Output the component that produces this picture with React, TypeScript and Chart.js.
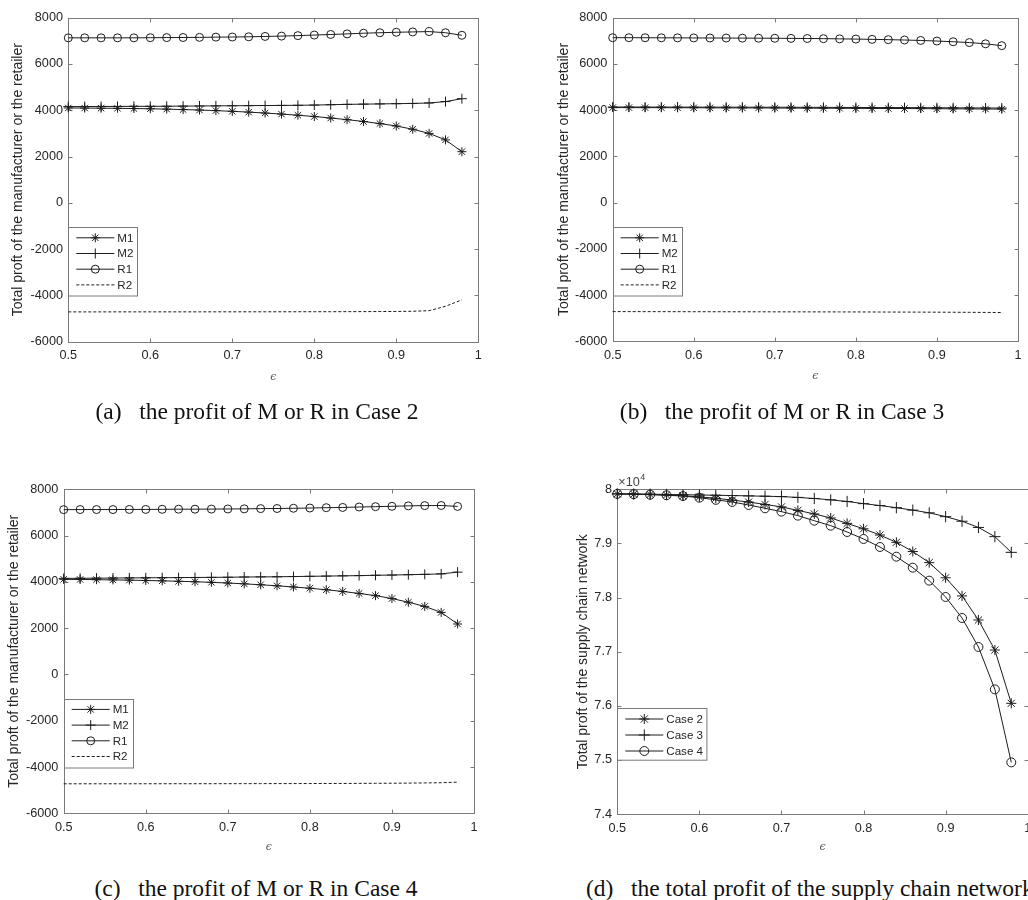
import React, { useEffect, useRef } from 'react';
import { Chart, registerables } from 'chart.js';

Chart.register(...registerables);

// ---------- data ----------
const EPS = [0.5, 0.52, 0.54, 0.56, 0.58, 0.6, 0.62, 0.64, 0.66, 0.68, 0.7, 0.72, 0.74, 0.76, 0.78, 0.8, 0.82, 0.84, 0.86, 0.88, 0.9, 0.92, 0.94, 0.96, 0.98];

const PROFIT_TICKS_Y = [-6000, -4000, -2000, 0, 2000, 4000, 6000, 8000];
const EPS_TICKS = [0.5, 0.6, 0.7, 0.8, 0.9, 1];
const TOTAL_TICKS_Y = [74000, 75000, 76000, 77000, 78000, 79000, 80000];

// (a) Case 2
const A_M1 = [4100, 4095, 4090, 4085, 4075, 4065, 4050, 4030, 4010, 3985, 3955, 3920, 3880, 3835, 3785, 3730, 3665, 3595, 3515, 3425, 3320, 3180, 3000, 2720, 2210];
const A_M2 = [4160, 4160, 4165, 4165, 4170, 4170, 4175, 4180, 4185, 4190, 4195, 4200, 4205, 4210, 4215, 4225, 4240, 4255, 4265, 4275, 4285, 4295, 4315, 4375, 4500];
const A_R1 = [7130, 7130, 7130, 7130, 7130, 7135, 7140, 7145, 7150, 7160, 7165, 7175, 7190, 7205, 7225, 7250, 7275, 7300, 7330, 7350, 7370, 7385, 7400, 7350, 7240];
const A_R2 = [-4712, -4712, -4712, -4711, -4711, -4711, -4710, -4710, -4710, -4709, -4709, -4708, -4708, -4707, -4706, -4705, -4704, -4702, -4700, -4697, -4693, -4685, -4660, -4470, -4190];

// (b) Case 3
const B_M1 = [4110, 4110, 4108, 4107, 4105, 4103, 4101, 4099, 4097, 4095, 4093, 4090, 4088, 4085, 4082, 4079, 4076, 4073, 4070, 4066, 4062, 4058, 4054, 4050, 4045];
const B_M2 = [4135, 4135, 4134, 4133, 4132, 4131, 4130, 4129, 4128, 4127, 4126, 4124, 4122, 4120, 4118, 4116, 4114, 4112, 4110, 4107, 4104, 4101, 4098, 4094, 4090];
const B_R1 = [7135, 7135, 7133, 7130, 7128, 7125, 7122, 7120, 7117, 7113, 7110, 7105, 7100, 7093, 7085, 7075, 7063, 7050, 7035, 7015, 6990, 6960, 6925, 6870, 6790];
const B_R2 = [-4715, -4716, -4717, -4718, -4719, -4720, -4721, -4722, -4723, -4724, -4725, -4726, -4727, -4728, -4729, -4730, -4732, -4734, -4736, -4738, -4740, -4743, -4746, -4750, -4755];

// (c) Case 4
const C_M1 = [4110, 4105, 4095, 4085, 4075, 4060, 4045, 4025, 4005, 3980, 3950, 3915, 3875, 3830, 3780, 3725, 3660, 3585, 3500, 3405, 3280, 3120, 2940, 2680, 2180];
const C_M2 = [4150, 4155, 4160, 4165, 4170, 4175, 4180, 4185, 4190, 4195, 4200, 4210, 4215, 4220, 4230, 4240, 4250, 4260, 4270, 4285, 4295, 4310, 4325, 4345, 4420];
const C_R1 = [7120, 7125, 7125, 7125, 7130, 7130, 7135, 7140, 7140, 7145, 7150, 7155, 7165, 7170, 7180, 7190, 7205, 7215, 7235, 7250, 7265, 7285, 7295, 7300, 7260];
const C_R2 = [-4725, -4725, -4725, -4724, -4724, -4723, -4723, -4722, -4722, -4721, -4720, -4719, -4718, -4717, -4716, -4714, -4712, -4710, -4707, -4704, -4700, -4695, -4688, -4678, -4655];

// (d) total profit of the network
const D_CASE2 = [79915, 79910, 79905, 79895, 79880, 79860, 79835, 79800, 79765, 79720, 79675, 79610, 79545, 79470, 79370, 79270, 79155, 79020, 78850, 78645, 78365, 78030, 77585, 77030, 76045];
const D_CASE3 = [79915, 79913, 79910, 79905, 79900, 79895, 79890, 79885, 79878, 79872, 79865, 79850, 79830, 79805, 79775, 79735, 79700, 79660, 79615, 79565, 79495, 79410, 79295, 79125, 78835];
const D_CASE4 = [79915, 79910, 79900, 79890, 79875, 79845, 79805, 79766, 79710, 79649, 79587, 79513, 79420, 79328, 79211, 79082, 78934, 78755, 78552, 78312, 78010, 77622, 77086, 76303, 74954];

const CAPTIONS = [
  '(a)\u2002 the profit of M or R in Case 2',
  '(b)\u2002 the profit of M or R in Case 3',
  '(c)\u2002 the profit of M or R in Case 4',
  '(d)\u2002 the total profit of the supply chain network',
];

// ---------- styling ----------
const AXIS_COLOR = '#7a7a7a';
const TEXT_COLOR = '#262626';
const LINE_COLOR = '#1c1c1c';
const SANS = '"Liberation Sans", Arial, sans-serif';

type Marker = 'star' | 'cross' | 'circle' | 'none';
type SeriesDef = { label: string; values: number[]; marker: Marker; dashed?: boolean };

function drawMarker(ctx: CanvasRenderingContext2D, m: Marker, x: number, y: number, r: number) {
  if (m === 'none') return;
  ctx.beginPath();
  if (m === 'circle') {
    ctx.arc(x, y, r, 0, Math.PI * 2);
  } else {
    ctx.moveTo(x - r, y); ctx.lineTo(x + r, y);
    ctx.moveTo(x, y - r); ctx.lineTo(x, y + r);
    if (m === 'star') {
      const d = r * Math.SQRT1_2;
      ctx.moveTo(x - d, y - d); ctx.lineTo(x + d, y + d);
      ctx.moveTo(x - d, y + d); ctx.lineTo(x + d, y - d);
    }
  }
  ctx.stroke();
}

const matlabAxes = {
  id: 'matlabAxes',
  beforeDatasetsDraw(chart: any) {
    const { ctx, chartArea } = chart;
    const { left, right, top, bottom } = chartArea;
    const xs = chart.scales.x;
    const ys = chart.scales.y;
    const L = Math.round(left) + 0.5, R = Math.round(right) + 0.5;
    const T = Math.round(top) + 0.5, B = Math.round(bottom) + 0.5;
    ctx.save();
    ctx.strokeStyle = AXIS_COLOR;
    ctx.lineWidth = 1;
    ctx.strokeRect(L, T, R - L, B - T);
    const tl = 4;
    ctx.beginPath();
    xs.ticks.forEach((t: any) => {
      const px = Math.round(xs.getPixelForValue(t.value)) + 0.5;
      ctx.moveTo(px, B); ctx.lineTo(px, B - tl);
      ctx.moveTo(px, T); ctx.lineTo(px, T + tl);
    });
    ys.ticks.forEach((t: any) => {
      const py = Math.round(ys.getPixelForValue(t.value)) + 0.5;
      ctx.moveTo(L, py); ctx.lineTo(L + tl, py);
      ctx.moveTo(R, py); ctx.lineTo(R - tl, py);
    });
    ctx.stroke();
    ctx.restore();
  },
  afterDatasetsDraw(chart: any, _args: any, opts: any) {
    const { ctx, chartArea } = chart;
    const { left, top } = chartArea;
    ctx.save();
    if (opts.legend) {
      const lg = opts.legend;
      const bx = Math.round(left) + 0.5;
      const by = Math.round(top + lg.top) + 0.5;
      ctx.fillStyle = '#ffffff';
      ctx.fillRect(bx, by, lg.width, lg.height);
      ctx.strokeStyle = AXIS_COLOR;
      ctx.lineWidth = 1;
      ctx.strokeRect(bx, by, lg.width, lg.height);
      chart.data.datasets.forEach((ds: any, i: number) => {
        const yy = top + lg.top + 10.7 + i * lg.gap;
        ctx.strokeStyle = LINE_COLOR;
        ctx.lineWidth = 1;
        ctx.setLineDash(ds.borderDash || []);
        ctx.beginPath();
        ctx.moveTo(left + 8, yy); ctx.lineTo(left + 46, yy);
        ctx.stroke();
        ctx.setLineDash([]);
        drawMarker(ctx, ds.markerKind, left + 27, yy, ds.pointRadius);
        ctx.fillStyle = TEXT_COLOR;
        ctx.font = `11.6px ${SANS}`;
        ctx.textBaseline = 'middle';
        ctx.textAlign = 'left';
        ctx.fillText(ds.label, left + 49, yy + 0.5);
      });
    }
    if (opts.exponent) {
      ctx.fillStyle = '#444';
      ctx.textAlign = 'left';
      ctx.textBaseline = 'alphabetic';
      ctx.font = `12.7px ${SANS}`;
      ctx.fillText('\u00d710', left + 1, top - 3);
      const w = ctx.measureText('\u00d710').width;
      ctx.font = `9px ${SANS}`;
      ctx.fillText('4', left + 1 + w + 0.5, top - 9.5);
    }
    ctx.restore();
  },
};

type PanelDef = {
  left: number; top: number; w: number; h: number;
  yW: number; padTop: number; padRight: number; xH: number;
  yTitle: string; yTitleX: number; xTitleFromBottom: number;
  yTicks: number[]; yFmt: (v: number) => string;
  series: SeriesDef[];
  legend: { top: number; width: number; height: number; gap: number };
  exponent?: boolean;
  markerScale?: number;
};

const profitFmt = (v: number) => String(Math.round(v));
const totalFmt = (v: number) => String(Number((v / 10000).toFixed(1)));

const caseSeries = (m1: number[], m2: number[], r1: number[], r2: number[]): SeriesDef[] => [
  { label: 'M1', values: m1, marker: 'star' },
  { label: 'M2', values: m2, marker: 'cross' },
  { label: 'R1', values: r1, marker: 'circle' },
  { label: 'R2', values: r2, marker: 'none', dashed: true },
];

const profitLegend = { top: 209.4, width: 69, height: 68.5, gap: 15.7 };

const PANELS: PanelDef[] = [
  {
    left: 0, top: 0, w: 510, h: 400, yW: 68.3, padTop: 17.7, padRight: 31.7, xH: 58.3,
    yTitle: 'Total proft of the manufacturer or the retailer', yTitleX: 18.3, xTitleFromBottom: 23.3,
    yTicks: PROFIT_TICKS_Y, yFmt: profitFmt, series: caseSeries(A_M1, A_M2, A_R1, A_R2), legend: profitLegend,
  },
  {
    left: 510, top: 0, w: 518, h: 400, yW: 102.7, padTop: 17.7, padRight: 8, xH: 58.7,
    yTitle: 'Total proft of the manufacturer or the retailer', yTitleX: 54, xTitleFromBottom: 24,
    yTicks: PROFIT_TICKS_Y, yFmt: profitFmt, series: caseSeries(B_M1, B_M2, B_R1, B_R2), legend: profitLegend,
  },
  {
    left: 0, top: 440, w: 510, h: 420, yW: 63.7, padTop: 49.3, padRight: 36, xH: 46.7,
    yTitle: 'Total proft of the manufacturer or the retailer', yTitleX: 14, xTitleFromBottom: 13,
    yTicks: PROFIT_TICKS_Y, yFmt: profitFmt, series: caseSeries(C_M1, C_M2, C_R1, C_R2), legend: profitLegend,
  },
  {
    left: 510, top: 440, w: 560, h: 420, yW: 107.3, padTop: 49.3, padRight: 42.3, xH: 46,
    yTitle: 'Total proft of the supply chain network', yTitleX: 72.7, xTitleFromBottom: 12.7,
    yTicks: TOTAL_TICKS_Y, yFmt: totalFmt,
    series: [
      { label: 'Case 2', values: D_CASE2, marker: 'star' },
      { label: 'Case 3', values: D_CASE3, marker: 'cross' },
      { label: 'Case 4', values: D_CASE4, marker: 'circle' },
    ],
    legend: { top: 219, width: 89.4, height: 51.7, gap: 16 },
    exponent: true,
    markerScale: 1.12,
  },
];

const RADIUS: Record<Marker, number> = { star: 4.5, cross: 5, circle: 4, none: 0 };

function PanelChart({ p }: { p: PanelDef }) {
  const ref = useRef<HTMLCanvasElement>(null);
  useEffect(() => {
    const s = p.markerScale || 1;
    const datasets = p.series.map((sd) => ({
      label: sd.label,
      data: EPS.map((x, i) => ({ x, y: sd.values[i] })),
      borderColor: LINE_COLOR,
      backgroundColor: 'rgba(0,0,0,0)',
      borderWidth: 1,
      borderDash: sd.dashed ? [3, 2] : [],
      pointStyle: sd.marker === 'star' ? 'star' : sd.marker === 'cross' ? 'cross' : 'circle',
      pointRadius: RADIUS[sd.marker] * s,
      pointBorderWidth: 1,
      pointBorderColor: LINE_COLOR,
      pointBackgroundColor: 'rgba(0,0,0,0)',
      markerKind: sd.marker,
      tension: 0,
      clip: false as any,
    }));
    const yMin = p.yTicks[0];
    const yMax = p.yTicks[p.yTicks.length - 1];
    const yStep = p.yTicks[1] - p.yTicks[0];
    const chart = new Chart(ref.current!, {
      type: 'line',
      data: { datasets: datasets as any },
      options: {
        animation: false,
        responsive: false,
        devicePixelRatio: 1,
        layout: { padding: { left: 0, top: p.padTop, right: p.padRight, bottom: 0 } },
        plugins: {
          legend: { display: false },
          tooltip: { enabled: false },
          matlabAxes: { legend: p.legend, exponent: !!p.exponent },
        } as any,
        scales: {
          x: {
            type: 'linear',
            min: EPS_TICKS[0],
            max: EPS_TICKS[EPS_TICKS.length - 1],
            afterBuildTicks: (scale: any) => { scale.ticks = EPS_TICKS.map((v) => ({ value: v })); },
            grid: { display: false, drawTicks: false },
            border: { display: false },
            ticks: {
              autoSkip: false, maxRotation: 0, padding: 6.5,
              color: TEXT_COLOR, font: { family: SANS, size: 12.7 },
              callback: (v: any) => String(Number(Number(v).toFixed(1))),
            },
            title: {
              display: true, text: '\u03f5', color: '#555',
              font: { family: '"DejaVu Serif", serif', size: 11, style: 'italic' },
              padding: { top: 0, bottom: p.xTitleFromBottom - 6.6 },
            },
            afterFit: (scale: any) => { scale.height = p.xH; },
          },
          y: {
            type: 'linear',
            min: yMin,
            max: yMax,
            afterBuildTicks: (scale: any) => { scale.ticks = p.yTicks.map((v) => ({ value: v })); },
            grid: { display: false, drawTicks: false },
            border: { display: false },
            ticks: {
              stepSize: yStep, autoSkip: false, padding: 5.3,
              color: TEXT_COLOR, font: { family: SANS, size: 12.7 },
              callback: (v: any) => p.yFmt(Number(v)),
            },
            title: {
              display: true, text: p.yTitle, color: TEXT_COLOR,
              font: { family: SANS, size: 14 },
              padding: { top: p.yTitleX - 8.4, bottom: 0 },
            },
            afterFit: (scale: any) => { scale.width = p.yW; },
          },
        },
      } as any,
      plugins: [matlabAxes as any],
    });
    return () => chart.destroy();
  }, []);
  return (
    <canvas
      ref={ref}
      width={p.w}
      height={p.h}
      style={{ position: 'absolute', left: p.left, top: p.top, width: p.w, height: p.h }}
    />
  );
}

const captionStyle: React.CSSProperties = {
  position: 'absolute',
  font: '23.5px "Liberation Serif", "Times New Roman", serif',
  lineHeight: '26px',
  color: '#111',
  whiteSpace: 'pre',
};

export default function App() {
  return (
    <div style={{ position: 'absolute', left: 0, top: 0, width: 1028, height: 900, overflow: 'hidden', background: '#fff' }}>
      {PANELS.map((p, i) => <PanelChart key={i} p={p} />)}
      <div style={{ ...captionStyle, left: 257, top: 398, transform: 'translateX(-50%)' }}>{CAPTIONS[0]}</div>
      <div style={{ ...captionStyle, left: 782, top: 398, transform: 'translateX(-50%)' }}>{CAPTIONS[1]}</div>
      <div style={{ ...captionStyle, left: 256, top: 875, transform: 'translateX(-50%)' }}>{CAPTIONS[2]}</div>
      <div style={{ ...captionStyle, left: 586, top: 875 }}>{CAPTIONS[3]}</div>
    </div>
  );
}
